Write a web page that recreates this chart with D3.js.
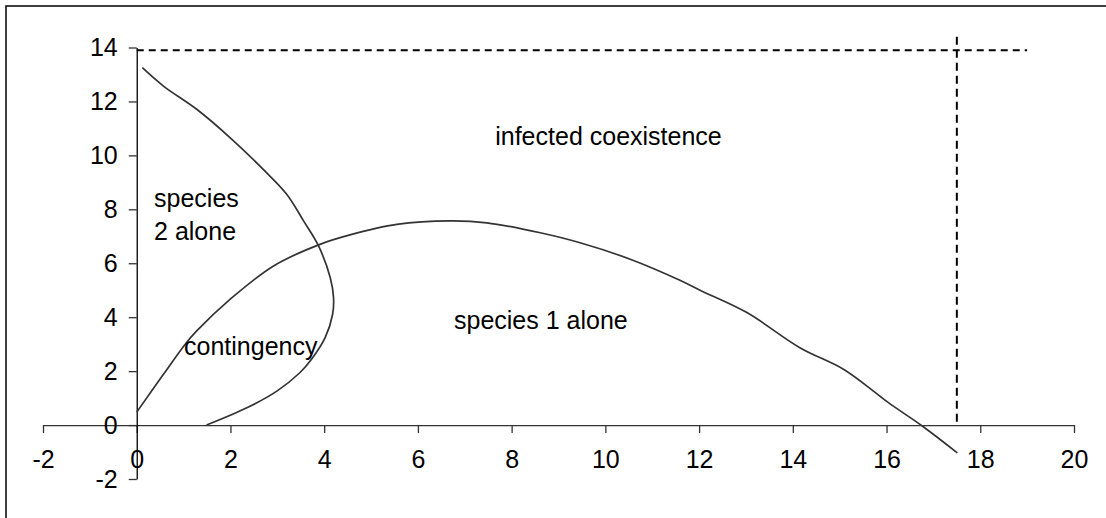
<!DOCTYPE html>
<html>
<head>
<meta charset="utf-8">
<script src="https://cdn.jsdelivr.net/npm/d3@7"></script>
<style>
  body { margin: 0; background: #fff; overflow: hidden; }
  svg { display: block; }
  text { font-family: "Liberation Sans", Arial, sans-serif; fill: #000; }
</style>
</head>
<body>
<div id="chart"></div>
<script>
const ancho = 1106;
const alto = 518;

// ticks
const xTicks = [-2, 0, 2, 4, 6, 8, 10, 12, 14, 16, 18, 20];
const yTicks = [-2, 0, 2, 4, 6, 8, 10, 12, 14];

// species 2 boundary (curva que vuelve sobre si misma)
const curvaAx = [0.12, 0.57, 1.28, 1.99, 2.70, 3.20, 3.56, 3.88, 4.13, 4.20, 4.18, 4.02, 3.73, 3.48, 2.99, 2.35, 1.49];
const curvaAy = [13.25, 12.57, 11.71, 10.66, 9.48, 8.56, 7.57, 6.64, 5.46, 4.72, 4.11, 3.24, 2.44, 1.94, 1.26, 0.64, 0.0];

// species 1 boundary
const curvaBx = [0.0, 0.57, 1.03, 1.28, 1.99, 2.92, 3.91, 4.55, 5.55, 6.69, 7.47, 8.61, 9.46, 10.53, 11.59, 12.02, 13.02, 14.15, 15.08, 15.72, 16.04, 16.79, 17.51];
const curvaBy = [0.48, 1.88, 2.99, 3.49, 4.66, 5.90, 6.70, 7.05, 7.44, 7.57, 7.50, 7.13, 6.76, 6.15, 5.37, 5.00, 4.17, 2.87, 2.07, 1.26, 0.83, -0.07, -1.03];

// lineas discontinuas
const limiteHx = [0, 19];
const limiteHy = 13.9;
const limiteVx = 17.5;
const limiteVy = [0, 14.4];

// etiquetas de regiones
const regiones = [
  { texto: "infected coexistence", x: 7.65, y: 10.4 },
  { texto: "species 1 alone", x: 6.77, y: 3.55 },
  { texto: "species", x: 0.37, y: 8.1 },
  { texto: "2 alone", x: 0.37, y: 6.85 },
  { texto: "contingency", x: 1.01, y: 2.6 },
];

const svg = d3.select("#chart").append("svg")
  .attr("width", ancho)
  .attr("height", alto);

// marco (solo se ven el borde superior y el izquierdo)
svg.append("rect")
  .attr("x", 6).attr("y", 6)
  .attr("width", 1200).attr("height", 600)
  .attr("fill", "none")
  .attr("stroke", "#000")
  .attr("stroke-width", 1.5);

const x = d3.scaleLinear().domain([-2, 20]).range([43, 1074]);
const y = d3.scaleLinear().domain([-2, 14]).range([479, 47.5]);

const ejeX = d3.axisBottom(x).tickValues(xTicks).tickSize(8).tickSizeOuter(0).tickPadding(17).tickFormat((d) => String(d));
const ejeY = d3.axisLeft(y).tickValues(yTicks).tickSize(8).tickSizeOuter(0).tickPadding(11).tickFormat((d) => String(d));

const grupoX = svg.append("g").attr("transform", `translate(0, ${y(0)})`).call(ejeX);
const grupoY = svg.append("g").attr("transform", `translate(${x(0)}, 0)`).call(ejeY);

[grupoX, grupoY].forEach((g) => {
  g.selectAll("path, line").attr("stroke", "#333").attr("stroke-width", 1.3);
  g.selectAll("text")
    .attr("fill", "#000")
    .style("font-size", "25px")
    .style("font-family", '"Liberation Sans", Arial, sans-serif');
});
grupoY.select(".domain").attr("stroke", "#000");

// lineas discontinuas
svg.append("line")
  .attr("x1", x(limiteHx[0])).attr("x2", x(limiteHx[1]))
  .attr("y1", y(limiteHy)).attr("y2", y(limiteHy))
  .attr("stroke", "#000").attr("stroke-width", 2)
  .attr("stroke-dasharray", "7,5");
svg.append("line")
  .attr("x1", x(limiteVx)).attr("x2", x(limiteVx))
  .attr("y1", y(limiteVy[1])).attr("y2", y(limiteVy[0]))
  .attr("stroke", "#000").attr("stroke-width", 2)
  .attr("stroke-dasharray", "8,5");

// curvas
const linea = d3.line()
  .x((d) => x(d[0]))
  .y((d) => y(d[1]))
  .curve(d3.curveCatmullRom);

svg.append("path")
  .datum(curvaAx.map((v, i) => [v, curvaAy[i]]))
  .attr("fill", "none")
  .attr("stroke", "#333")
  .attr("stroke-width", 1.7)
  .attr("d", linea);

svg.append("path")
  .datum(curvaBx.map((v, i) => [v, curvaBy[i]]))
  .attr("fill", "none")
  .attr("stroke", "#333")
  .attr("stroke-width", 1.7)
  .attr("d", linea);

// textos
svg.selectAll(".region")
  .data(regiones)
  .enter()
  .append("text")
  .attr("class", "region")
  .attr("x", (d) => x(d.x))
  .attr("y", (d) => y(d.y))
  .style("font-size", "25px")
  .text((d) => d.texto);
</script>
</body>
</html>
